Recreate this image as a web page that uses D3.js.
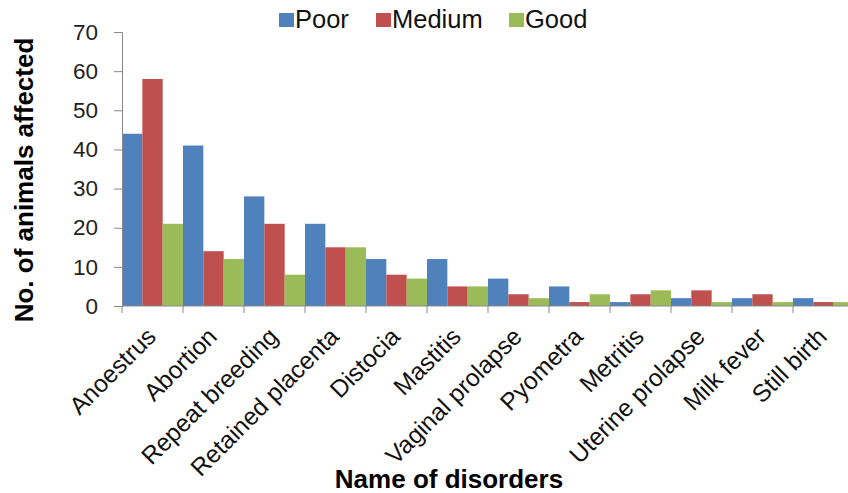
<!DOCTYPE html>
<html>
<head>
<meta charset="utf-8">
<script src="https://cdn.jsdelivr.net/npm/d3@7"></script>
<style>
body { margin: 0; background: #fff; }
text { font-family: "Liberation Sans", Arial, sans-serif; }
</style>
</head>
<body>
<div id="chart"></div>
<script>
// data
var disorders = ["Anoestrus", "Abortion", "Repeat breeding", "Retained placenta", "Distocia", "Mastitis",
  "Vaginal prolapse", "Pyometra", "Metritis", "Uterine prolapse", "Milk fever", "Still birth"]
var poor   = [44, 41, 28, 21, 12, 12, 7, 5, 1, 2, 2, 2]
var medium = [58, 14, 21, 15, 8, 5, 3, 1, 3, 4, 3, 1]
var good   = [21, 12, 8, 15, 7, 5, 2, 3, 4, 1, 1, 1]
var seriesNames = ["Poor", "Medium", "Good"]
var colors = ["#4F81BD", "#C0504D", "#9BBB59"]
var yTicks = [0, 10, 20, 30, 40, 50, 60, 70]

var width = 848, height = 493
var margin = {top: 32, left: 122, bottom: 187}
var plotW = 732

var svg = d3.select("#chart").append("svg")
  .attr("width", width).attr("height", height)

var x = d3.scaleBand().domain(disorders).range([margin.left, margin.left + plotW])
var xs = d3.scaleBand().domain(seriesNames).range([0, x.bandwidth()])
var y = d3.scaleLinear().domain([0, 70]).range([height - margin.bottom, margin.top])

var series = [poor, medium, good]

series.forEach(function(vals, si){
  svg.selectAll(".bar" + si)
    .data(vals)
    .enter()
    .append("rect")
    .attr("x", function(d, i){ return x(disorders[i]) + xs(seriesNames[si]) })
    .attr("width", xs.bandwidth())
    .attr("y", function(d){ return y(d) })
    .attr("height", function(d){ return y(0) - y(d) })
    .attr("fill", colors[si])
})

// y axis
var yAxis = svg.append("g")
  .attr("transform", "translate(" + margin.left + ",0)")
  .call(d3.axisLeft(y).tickValues(yTicks).tickSize(8).tickSizeOuter(8).tickPadding(16))
yAxis.selectAll("text").style("font-size", "22.5px").attr("fill", "#222")
yAxis.selectAll("line, path").attr("stroke", "#888")

// x axis, ticks on category boundaries
var xAxis = svg.append("g")
  .attr("transform", "translate(0," + y(0) + ")")
xAxis.append("line")
  .attr("x1", margin.left).attr("x2", margin.left + plotW)
  .attr("stroke", "#888")
xAxis.selectAll(".tk")
  .data(disorders)
  .enter()
  .append("line")
  .attr("x1", function(d){ return x(d) }).attr("x2", function(d){ return x(d) })
  .attr("y1", 0).attr("y2", 7)
  .attr("stroke", "#888")
xAxis.selectAll(".lbl")
  .data(disorders)
  .enter()
  .append("text")
  .attr("text-anchor", "end")
  .attr("transform", function(d){
    return "translate(" + (x(d) + x.bandwidth() / 2 + 5) + ",32) rotate(-45)"
  })
  .style("font-size", "24.5px")
  .attr("fill", "#111")
  .text(function(d){ return d })

// axis titles
svg.append("text")
  .attr("transform", "translate(33,180) rotate(-90)")
  .attr("text-anchor", "middle")
  .style("font-size", "26px").style("font-weight", "bold")
  .text("No. of animals affected")

svg.append("text")
  .attr("x", 449).attr("y", 488)
  .attr("text-anchor", "middle")
  .style("font-size", "26px").style("font-weight", "bold")
  .text("Name of disorders")

// legend
var legendX = [279, 376, 509]
var legend = svg.selectAll(".leg")
  .data(seriesNames)
  .enter()
  .append("g")
  .attr("transform", function(d, i){ return "translate(" + legendX[i] + ",13)" })
legend.append("rect")
  .attr("width", 15).attr("height", 14)
  .attr("fill", function(d, i){ return colors[i] })
legend.append("text")
  .attr("x", 16).attr("y", 15)
  .style("font-size", "25.5px")
  .attr("fill", "#111")
  .text(function(d){ return d })
</script>
</body>
</html>
